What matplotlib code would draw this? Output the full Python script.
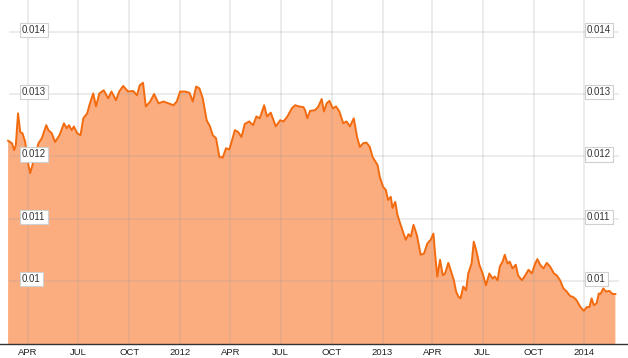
import pandas as pd
import numpy as np
import matplotlib
matplotlib.use("Agg")
import matplotlib.pyplot as plt
import matplotlib.dates as mdates
import matplotlib.transforms as mtransforms

plt.rcParams["font.family"] = ["Liberation Sans", "DejaVu Sans"]

# series: days counted from 2011-04-01, value of the rate
base_date = "2011-04-01"
day_offset = [
    -36, -29, -25, -22, -18, -14, -10, -5, -1, 4, 8, 13, 19, 25, 33, 37, 43, 49, 57, 65,
    70, 74, 79, 83, 89, 95, 100, 107, 112, 118, 123, 129, 137, 145, 151, 159, 165, 172, 181, 190,
    197, 202, 208, 213, 221, 228, 236, 245, 254, 263, 269, 275, 284, 292, 298, 304, 310, 316, 323, 329,
    334, 340, 346, 352, 358, 364, 368, 374, 380, 386, 392, 400, 407, 413, 419, 427, 432, 439, 448, 456,
    462, 469, 477, 483, 490, 498, 501, 505, 510, 519, 525, 531, 535, 540, 545, 551, 557, 563, 570, 576,
    582, 589, 595, 600, 606, 612, 618, 623, 632, 636, 642, 647, 651, 656, 659, 664, 668, 673, 679, 683,
    688, 692, 697, 703, 710, 716, 722, 728, 733, 736, 740, 745, 750, 754, 760, 766, 770, 774, 778, 782,
    787, 792, 796, 802, 806, 811, 816, 822, 828, 834, 840, 844, 849, 853, 858, 862, 867, 871, 876, 882,
    886, 893, 899, 905, 911, 917, 921, 926, 932, 938, 944, 951, 956, 962, 968, 974, 980, 986, 991, 995,
    999, 1005, 1010, 1015, 1019, 1023, 1028, 1032, 1035, 1040, 1045, 1051, 1057, 1062,
]
rate = [
    0.01225, 0.01221, 0.01210, 0.01218, 0.01269, 0.01239, 0.01237, 0.01223, 0.01194, 0.01173,
    0.01186, 0.01202, 0.01221, 0.01229, 0.01250, 0.01242, 0.01237, 0.01223, 0.01234, 0.01253,
    0.01245, 0.01250, 0.01242, 0.01248, 0.01237, 0.01234, 0.01261, 0.01269, 0.01285, 0.01301,
    0.01280, 0.01301, 0.01306, 0.01293, 0.01304, 0.01290, 0.01304, 0.01313, 0.01304, 0.01305,
    0.01298, 0.01314, 0.01318, 0.01280, 0.01288, 0.01300, 0.01285, 0.01288, 0.01285, 0.01282,
    0.01288, 0.01304, 0.01304, 0.01302, 0.01288, 0.01312, 0.01309, 0.01293, 0.01258, 0.01248,
    0.01234, 0.01229, 0.01199, 0.01198, 0.01213, 0.01211, 0.01223, 0.01242, 0.01239, 0.01231,
    0.01252, 0.01256, 0.01250, 0.01264, 0.01261, 0.01282, 0.01264, 0.01270, 0.01248, 0.01258,
    0.01256, 0.01264, 0.01277, 0.01282, 0.01280, 0.01279, 0.01274, 0.01261, 0.01273, 0.01274,
    0.01280, 0.01292, 0.01272, 0.01285, 0.01289, 0.01277, 0.01280, 0.01272, 0.01253, 0.01256,
    0.01248, 0.01261, 0.01231, 0.01215, 0.01221, 0.01222, 0.01215, 0.01199, 0.01186, 0.01167,
    0.01151, 0.01146, 0.01130, 0.01135, 0.01117, 0.01127, 0.01106, 0.01092, 0.01076, 0.01066,
    0.01075, 0.01071, 0.01090, 0.01074, 0.01042, 0.01044, 0.01060, 0.01066, 0.01076, 0.01044,
    0.01007, 0.01034, 0.01009, 0.01012, 0.01029, 0.01012, 0.01001, 0.00983, 0.00975, 0.00972,
    0.00991, 0.00985, 0.01012, 0.01028, 0.01063, 0.01047, 0.01026, 0.01012, 0.00993, 0.01012,
    0.01004, 0.01007, 0.01001, 0.01023, 0.01031, 0.01042, 0.01028, 0.01031, 0.01020, 0.01026,
    0.01009, 0.01001, 0.01009, 0.01018, 0.01012, 0.01028, 0.01035, 0.01026, 0.01020, 0.01029,
    0.01023, 0.01012, 0.01009, 0.01001, 0.00988, 0.00983, 0.00976, 0.00974, 0.00970, 0.00964,
    0.00958, 0.00952, 0.00958, 0.00958, 0.00972, 0.00961, 0.00964, 0.00980, 0.00979, 0.00988,
    0.00983, 0.00984, 0.00979, 0.00979,
]

tick_dates = ["2011-04-01", "2011-07-01", "2011-10-01", "2012-01-01", "2012-04-01", "2012-07-01",
              "2012-10-01", "2013-01-01", "2013-04-01", "2013-07-01", "2013-10-01", "2014-01-01"]
tick_labels = ["APR", "JUL", "OCT", "2012", "APR", "JUL", "OCT", "2013", "APR", "JUL", "OCT", "2014"]
y_levels = [0.01, 0.011, 0.012, 0.013, 0.014]
y_labels = ["0.01", "0.011", "0.012", "0.013", "0.014"]

dates = pd.Timestamp(base_date) + pd.to_timedelta(day_offset, unit="D")
ticks = pd.to_datetime(tick_dates)

fig = plt.figure(figsize=(6.28, 3.58), dpi=100)
ax = fig.add_axes([0, 14 / 358, 1, 344 / 358])

ax.fill_between(dates, rate, 0, color="#fcad80", lw=0, zorder=1)
ax.plot(dates, rate, color="#f26b0f", lw=1.4, zorder=3)

for t in ticks:
    ax.axvline(t, color="#999999", alpha=0.22, lw=1.2, zorder=2)
for yv in y_levels:
    ax.axhline(yv, xmin=10 / 628, xmax=618 / 628, color="#999999", alpha=0.22, lw=1.2, zorder=2)

trans = mtransforms.blended_transform_factory(ax.transAxes, ax.transData)
box = dict(boxstyle="square,pad=0.22", fc="white", ec="#d0d0d0", lw=0.8)
for yv, lab in zip(y_levels, y_labels):
    for xa in (22 / 628, 587 / 628):
        ax.text(xa, yv + 0.00003, lab, transform=trans, ha="left", va="center",
                fontsize=7, color="#333333", bbox=box, zorder=5)

x0 = pd.Timestamp(base_date) - pd.Timedelta(days=50.6)
x1 = pd.Timestamp(base_date) + pd.Timedelta(days=1084.8)
ax.set_xlim(x0, x1)
ax.set_ylim(0.008988, 0.0145088)

ax.set_xticks(ticks)
ax.set_xticklabels(tick_labels)
ax.tick_params(axis="x", length=0, pad=3, labelsize=6.8, labelcolor="#222222")
ax.set_yticks([])
for s in ["top", "left", "right"]:
    ax.spines[s].set_visible(False)
ax.spines["bottom"].set_color("#333333")
ax.spines["bottom"].set_linewidth(1.0)
ax.spines["bottom"].set_zorder(6)

fig.savefig("out.png", dpi=100)
